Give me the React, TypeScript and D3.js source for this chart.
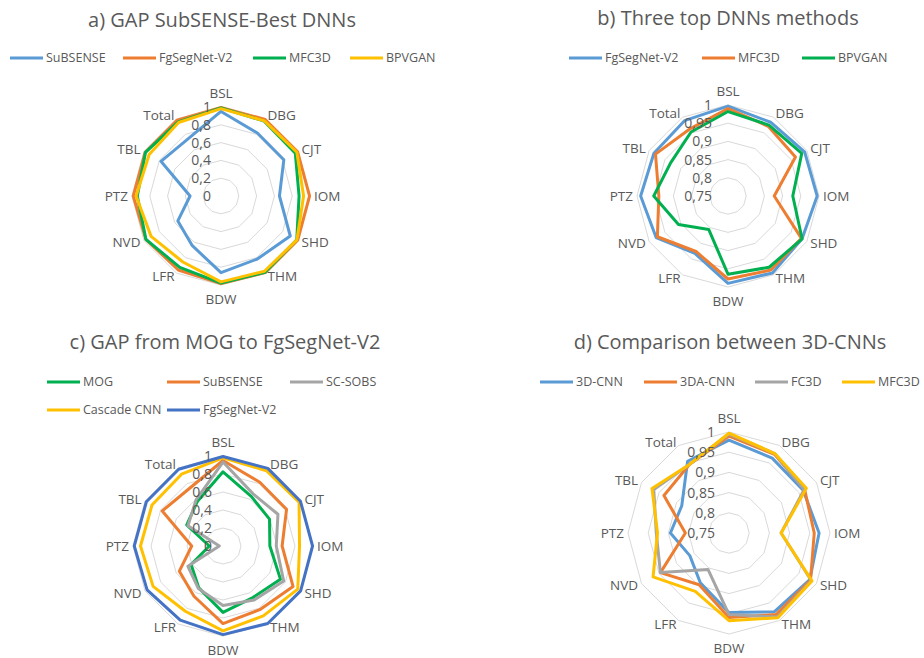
import React from "react";
import * as d3 from "d3";

const CATEGORIES = ["BSL", "DBG", "CJT", "IOM", "SHD", "THM", "BDW", "LFR", "NVD", "PTZ", "TBL", "Total"];

const TICKS_FULL = [0, 0.2, 0.4, 0.6, 0.8, 1];
const TICKS_TOP = [0.75, 0.8, 0.85, 0.9, 0.95, 1];

// a) GAP SubSENSE-Best DNNs
const subsenseA = [0.9503, 0.8177, 0.8152, 0.6569, 0.8986, 0.8171, 0.8619, 0.6445, 0.5599, 0.3476, 0.7792, 0.7408];
const fgsegA = [0.995, 0.993, 0.994, 0.995, 0.995, 0.994, 0.985, 0.96, 0.975, 0.986, 0.983, 0.985];
const mfc3dA = [0.99, 0.971, 0.964, 0.877, 0.983, 0.989, 0.978, 0.926, 0.974, 0.94, 0.98, 0.962];
const bpvganA = [0.982, 0.975, 0.984, 0.928, 0.985, 0.976, 0.965, 0.856, 0.907, 0.954, 0.932, 0.953];

// b) Three top DNNs methods
const fgsegB = [0.997, 0.984, 0.993, 0.995, 0.985, 0.994, 0.99, 0.932, 0.978, 0.99, 0.985, 0.989];
const mfc3dB = [0.99, 0.971, 0.964, 0.877, 0.983, 0.985, 0.978, 0.926, 0.974, 0.94, 0.98, 0.962];
const bpvganB = [0.982, 0.975, 0.984, 0.928, 0.985, 0.976, 0.965, 0.856, 0.907, 0.954, 0.932, 0.953];

// c) GAP from MOG to FgSegNet-V2
const mogC = [0.8245, 0.633, 0.5969, 0.5207, 0.737, 0.6621, 0.738, 0.5373, 0.4097, 0.1522, 0.4663, 0.5707];
const subsenseC = [0.9503, 0.8177, 0.8152, 0.6569, 0.8986, 0.8171, 0.8619, 0.6445, 0.5599, 0.3476, 0.7792, 0.7408];
const scsobsC = [0.9333, 0.6686, 0.7051, 0.5918, 0.7786, 0.6923, 0.662, 0.5463, 0.4503, 0.0409, 0.45, 0.5961];
const cascadeC = [0.9786, 0.9658, 0.9758, 0.8505, 0.9593, 0.8958, 0.9431, 0.837, 0.8965, 0.9168, 0.9108, 0.9209];
const fgsegC = [0.995, 0.996, 0.994, 0.995, 0.996, 0.994, 0.985, 0.95, 0.974, 0.986, 0.983, 0.985];

// d) Comparison between 3D-CNNs
const cnn3dD = [0.98, 0.964, 0.962, 0.973, 0.981, 0.975, 0.947, 0.892, 0.862, 0.895, 0.885, 0.955];
const cnn3daD = [0.99, 0.975, 0.966, 0.961, 0.983, 0.983, 0.959, 0.898, 0.946, 0.858, 0.936, 0.946];
const fc3dD = [0.995, 0.977, 0.965, 0.879, 0.985, 0.99, 0.952, 0.854, 0.946, 0.93, 0.965, 0.946];
const mfc3dD = [0.997, 0.977, 0.971, 0.879, 0.987, 0.992, 0.967, 0.917, 0.967, 0.927, 0.97, 0.946];

const BLUE = "#5B9BD5";
const ORANGE = "#ED7D31";
const GREEN = "#00B050";
const YELLOW = "#FFC000";
const GRAY = "#A5A5A5";
const DARKBLUE = "#4472C4";
const TEXT = "#595959";
const GRID = "#D9D9D9";
const FONT = "'Open Sans', 'Noto Sans', sans-serif";

type Series = { name: string; color: string; values: number[] };
type LegendPos = { x: number; y: number };
type ChartCfg = {
  title: string;
  titleX: number;
  titleY: number;
  cx: number;
  cy: number;
  R: number;
  ticks: number[];
  tickDx: number;
  series: Series[];
  legend: LegendPos[];
};

const charts: ChartCfg[] = [
  {
    title: "a) GAP SubSENSE-Best DNNs",
    titleX: 222,
    titleY: 20,
    cx: 221,
    cy: 196,
    R: 89,
    ticks: TICKS_FULL,
    tickDx: 10,
    series: [
      { name: "SuBSENSE", color: BLUE, values: subsenseA },
      { name: "FgSegNet-V2", color: ORANGE, values: fgsegA },
      { name: "MFC3D", color: GREEN, values: mfc3dA },
      { name: "BPVGAN", color: YELLOW, values: bpvganA },
    ],
    legend: [
      { x: 10, y: 58 },
      { x: 123, y: 58 },
      { x: 253, y: 58 },
      { x: 350, y: 58 },
    ],
  },
  {
    title: "b) Three top DNNs methods",
    titleX: 728,
    titleY: 18,
    cx: 728,
    cy: 196,
    R: 91,
    ticks: TICKS_TOP,
    tickDx: 16,
    series: [
      { name: "FgSegNet-V2", color: BLUE, values: fgsegB },
      { name: "MFC3D", color: ORANGE, values: mfc3dB },
      { name: "BPVGAN", color: GREEN, values: bpvganB },
    ],
    legend: [
      { x: 569, y: 58 },
      { x: 702, y: 58 },
      { x: 802, y: 58 },
    ],
  },
  {
    title: "c) GAP from MOG to FgSegNet-V2",
    titleX: 225,
    titleY: 342,
    cx: 223,
    cy: 546,
    R: 90,
    ticks: TICKS_FULL,
    tickDx: 11,
    series: [
      { name: "MOG", color: GREEN, values: mogC },
      { name: "SuBSENSE", color: ORANGE, values: subsenseC },
      { name: "SC-SOBS", color: GRAY, values: scsobsC },
      { name: "Cascade CNN", color: YELLOW, values: cascadeC },
      { name: "FgSegNet-V2", color: DARKBLUE, values: fgsegC },
    ],
    legend: [
      { x: 47, y: 382 },
      { x: 167, y: 382 },
      { x: 290, y: 382 },
      { x: 47, y: 410 },
      { x: 167, y: 410 },
    ],
  },
  {
    title: "d) Comparison between 3D-CNNs",
    titleX: 730,
    titleY: 342,
    cx: 729,
    cy: 533,
    R: 101,
    ticks: TICKS_TOP,
    tickDx: 14,
    series: [
      { name: "3D-CNN", color: BLUE, values: cnn3dD },
      { name: "3DA-CNN", color: ORANGE, values: cnn3daD },
      { name: "FC3D", color: GRAY, values: fc3dD },
      { name: "MFC3D", color: YELLOW, values: mfc3dD },
    ],
    legend: [
      { x: 540, y: 382 },
      { x: 644, y: 382 },
      { x: 755, y: 382 },
      { x: 842, y: 382 },
    ],
  },
];

const fmt = (v: number) => String(v).replace(".", ",");

function Radar({ cfg }: { cfg: ChartCfg }) {
  const n = CATEGORIES.length;
  const min = cfg.ticks[0];
  const max = cfg.ticks[cfg.ticks.length - 1];
  const r = d3.scaleLinear().domain([min, max]).range([0, cfg.R]);
  const angle = d3
    .scalePoint<string>()
    .domain(CATEGORIES)
    .range([0, (2 * Math.PI * (n - 1)) / n]);

  const line = d3
    .lineRadial<{ c: string; v: number }>()
    .angle((d) => angle(d.c) as number)
    .radius((d) => r(d.v))
    .curve(d3.curveLinearClosed);

  return (
    <g>
      <text
        x={cfg.titleX}
        y={cfg.titleY}
        dy="0.35em"
        textAnchor="middle"
        fontSize={20}
        fill={TEXT}
        fontFamily={FONT}
      >
        {cfg.title}
      </text>
      {cfg.series.map((s, i) => (
        <g key={s.name}>
          <line
            x1={cfg.legend[i].x}
            x2={cfg.legend[i].x + 33}
            y1={cfg.legend[i].y}
            y2={cfg.legend[i].y}
            stroke={s.color}
            strokeWidth={3}
          />
          <text
            x={cfg.legend[i].x + 36}
            y={cfg.legend[i].y}
            dy="0.35em"
            fontSize={12.5}
            fill={TEXT}
            fontFamily={FONT}
          >
            {s.name}
          </text>
        </g>
      ))}
      <g transform={`translate(${cfg.cx},${cfg.cy})`}>
        {cfg.ticks
          .filter((t) => t > min)
          .map((t) => (
            <path
              key={t}
              d={line(CATEGORIES.map((c) => ({ c, v: t }))) || ""}
              fill="none"
              stroke={GRID}
              strokeWidth={1}
            />
          ))}
        {cfg.series.map((s) => (
          <path
            key={s.name}
            d={line(CATEGORIES.map((c, i) => ({ c, v: s.values[i] }))) || ""}
            fill="none"
            stroke={s.color}
            strokeWidth={3}
            strokeLinejoin="round"
          />
        ))}
        {cfg.ticks.map((t) => (
          <text
            key={t}
            x={-cfg.tickDx}
            y={-r(t)}
            dy="0.35em"
            textAnchor="end"
            fontSize={14}
            fill={TEXT}
            fontFamily={FONT}
          >
            {fmt(t)}
          </text>
        ))}
        {CATEGORIES.map((c) => {
          const a = angle(c) as number;
          const s = Math.sin(a);
          const co = Math.cos(a);
          const d = cfg.R + 4;
          let x = s * d;
          let y = -co * d;
          let anchor: "start" | "end" | "middle" = "middle";
          if (s > 0.01) anchor = "start";
          else if (s < -0.01) anchor = "end";
          else y += co > 0 ? -10 : 10;
          return (
            <text
              key={c}
              x={x}
              y={y}
              dy="0.35em"
              textAnchor={anchor}
              fontSize={13.5}
              fill={TEXT}
              fontFamily={FONT}
            >
              {c}
            </text>
          );
        })}
      </g>
    </g>
  );
}

export default function App() {
  return (
    <svg
      width={924}
      height={658}
      style={{ position: "absolute", left: 0, top: 0, background: "#fff" }}
    >
      <rect width={924} height={658} fill="#fff" />
      {charts.map((c) => (
        <Radar key={c.title} cfg={c} />
      ))}
    </svg>
  );
}
